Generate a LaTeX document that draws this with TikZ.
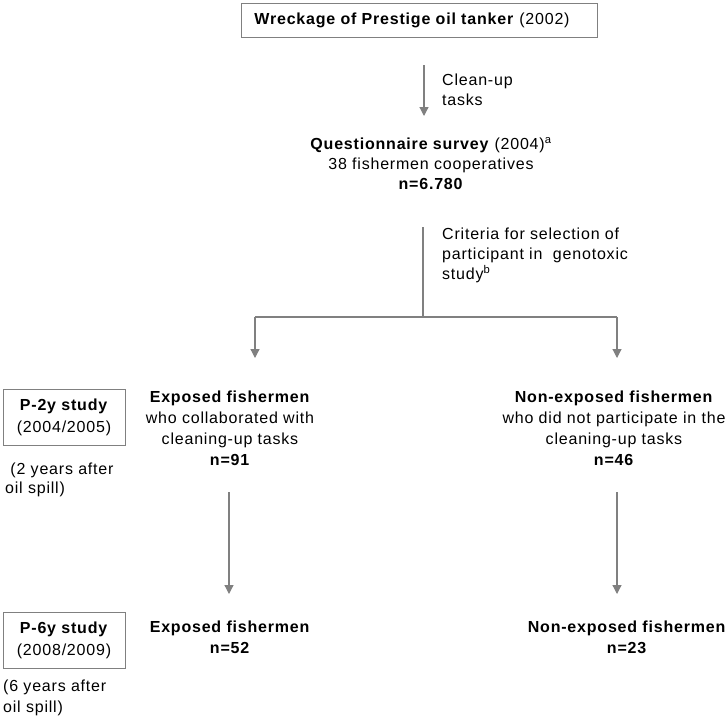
\documentclass[tikz,border=0pt]{standalone}
\usepackage{fontspec}
\setmainfont{Liberation Sans}[LetterSpace=5]
\usetikzlibrary{arrows.meta}
\definecolor{linegray}{RGB}{128,128,128}
\tikzset{
  every node/.style={font=\fontsize{16}{20}\selectfont, inner sep=0pt},
  wide/.style={font=\fontsize{16}{21}\selectfont},
  boxnode/.style={draw=linegray, line width=1pt, minimum height=34pt, align=center},
  txt/.style={align=center},
  lbl/.style={align=left, anchor=north west},
  conn/.style={draw=linegray, line width=1.2pt},
  arr/.style={conn, -{Triangle[length=9pt,width=9pt]}}
}
\begin{document}
\begin{tikzpicture}[x=1pt,y=-1pt]
\useasboundingbox (0,0) rectangle (728,724);
\node[boxnode, minimum width=356pt] (wreck) at (419,20) {\textbf{Wreckage of Prestige oil tanker} (2002)\hspace*{14pt}};
\coordinate (a1s) at (424,65);
\node[txt, anchor=north] (quest) at (431,137) {\textbf{Questionnaire survey} (2004)\textsuperscript{a}\\38 fishermen cooperatives\\\textbf{n=6.780}};
\draw[arr] (a1s) -- (424,116) coordinate (a1e);
\node[lbl] (clean) at (442,74) {Clean-up\\tasks};
\coordinate (split) at (423,317);
\draw[conn] (423,227) coordinate (c1) -- (split);
\node[lbl] (crit) at (442,228) {Criteria for selection of\\participant in \ genotoxic\\study\textsuperscript{b}};
\coordinate (hl) at (255,317);
\coordinate (hr) at (617,317);
\draw[conn] (hl) -- (hr);
\node[txt, wide, anchor=north] (exp1) at (230,391) {\textbf{Exposed fishermen}\\who collaborated with\\cleaning-up tasks\\\textbf{n=91}};
\node[txt, wide, anchor=north] (non1) at (614,391) {\textbf{Non-exposed fishermen}\\who did not participate in the\\cleaning-up tasks\\\textbf{n=46}};
\draw[arr] (hl) -- (255,358);
\draw[arr] (hr) -- (617,358);
\node[boxnode, font=\fontsize{16}{22}\selectfont, minimum width=122pt, minimum height=56pt] (p2) at (64,417) {\textbf{P-2y study}\\(2004/2005)};
\node[lbl, font=\fontsize{16}{19}\selectfont] (p2n) at (5,463) {\ (2 years after\\oil spill)};
\draw[arr] (229,492) -- (229,594);
\draw[arr] (617,492) -- (617,594);
\node[boxnode, font=\fontsize{16}{22}\selectfont, minimum width=122pt, minimum height=56pt] (p6) at (64,640.5) {\textbf{P-6y study}\\(2008/2009)};
\node[lbl, font=\fontsize{16}{21}\selectfont] (p6n) at (3,680) {(6 years after\\oil spill)};
\node[txt, wide, anchor=north] (exp2) at (230,621) {\textbf{Exposed fishermen}\\\textbf{n=52}};
\node[txt, wide, anchor=north] (non2) at (627,621) {\textbf{Non-exposed fishermen}\\\textbf{n=23}};
\end{tikzpicture}
\end{document}
